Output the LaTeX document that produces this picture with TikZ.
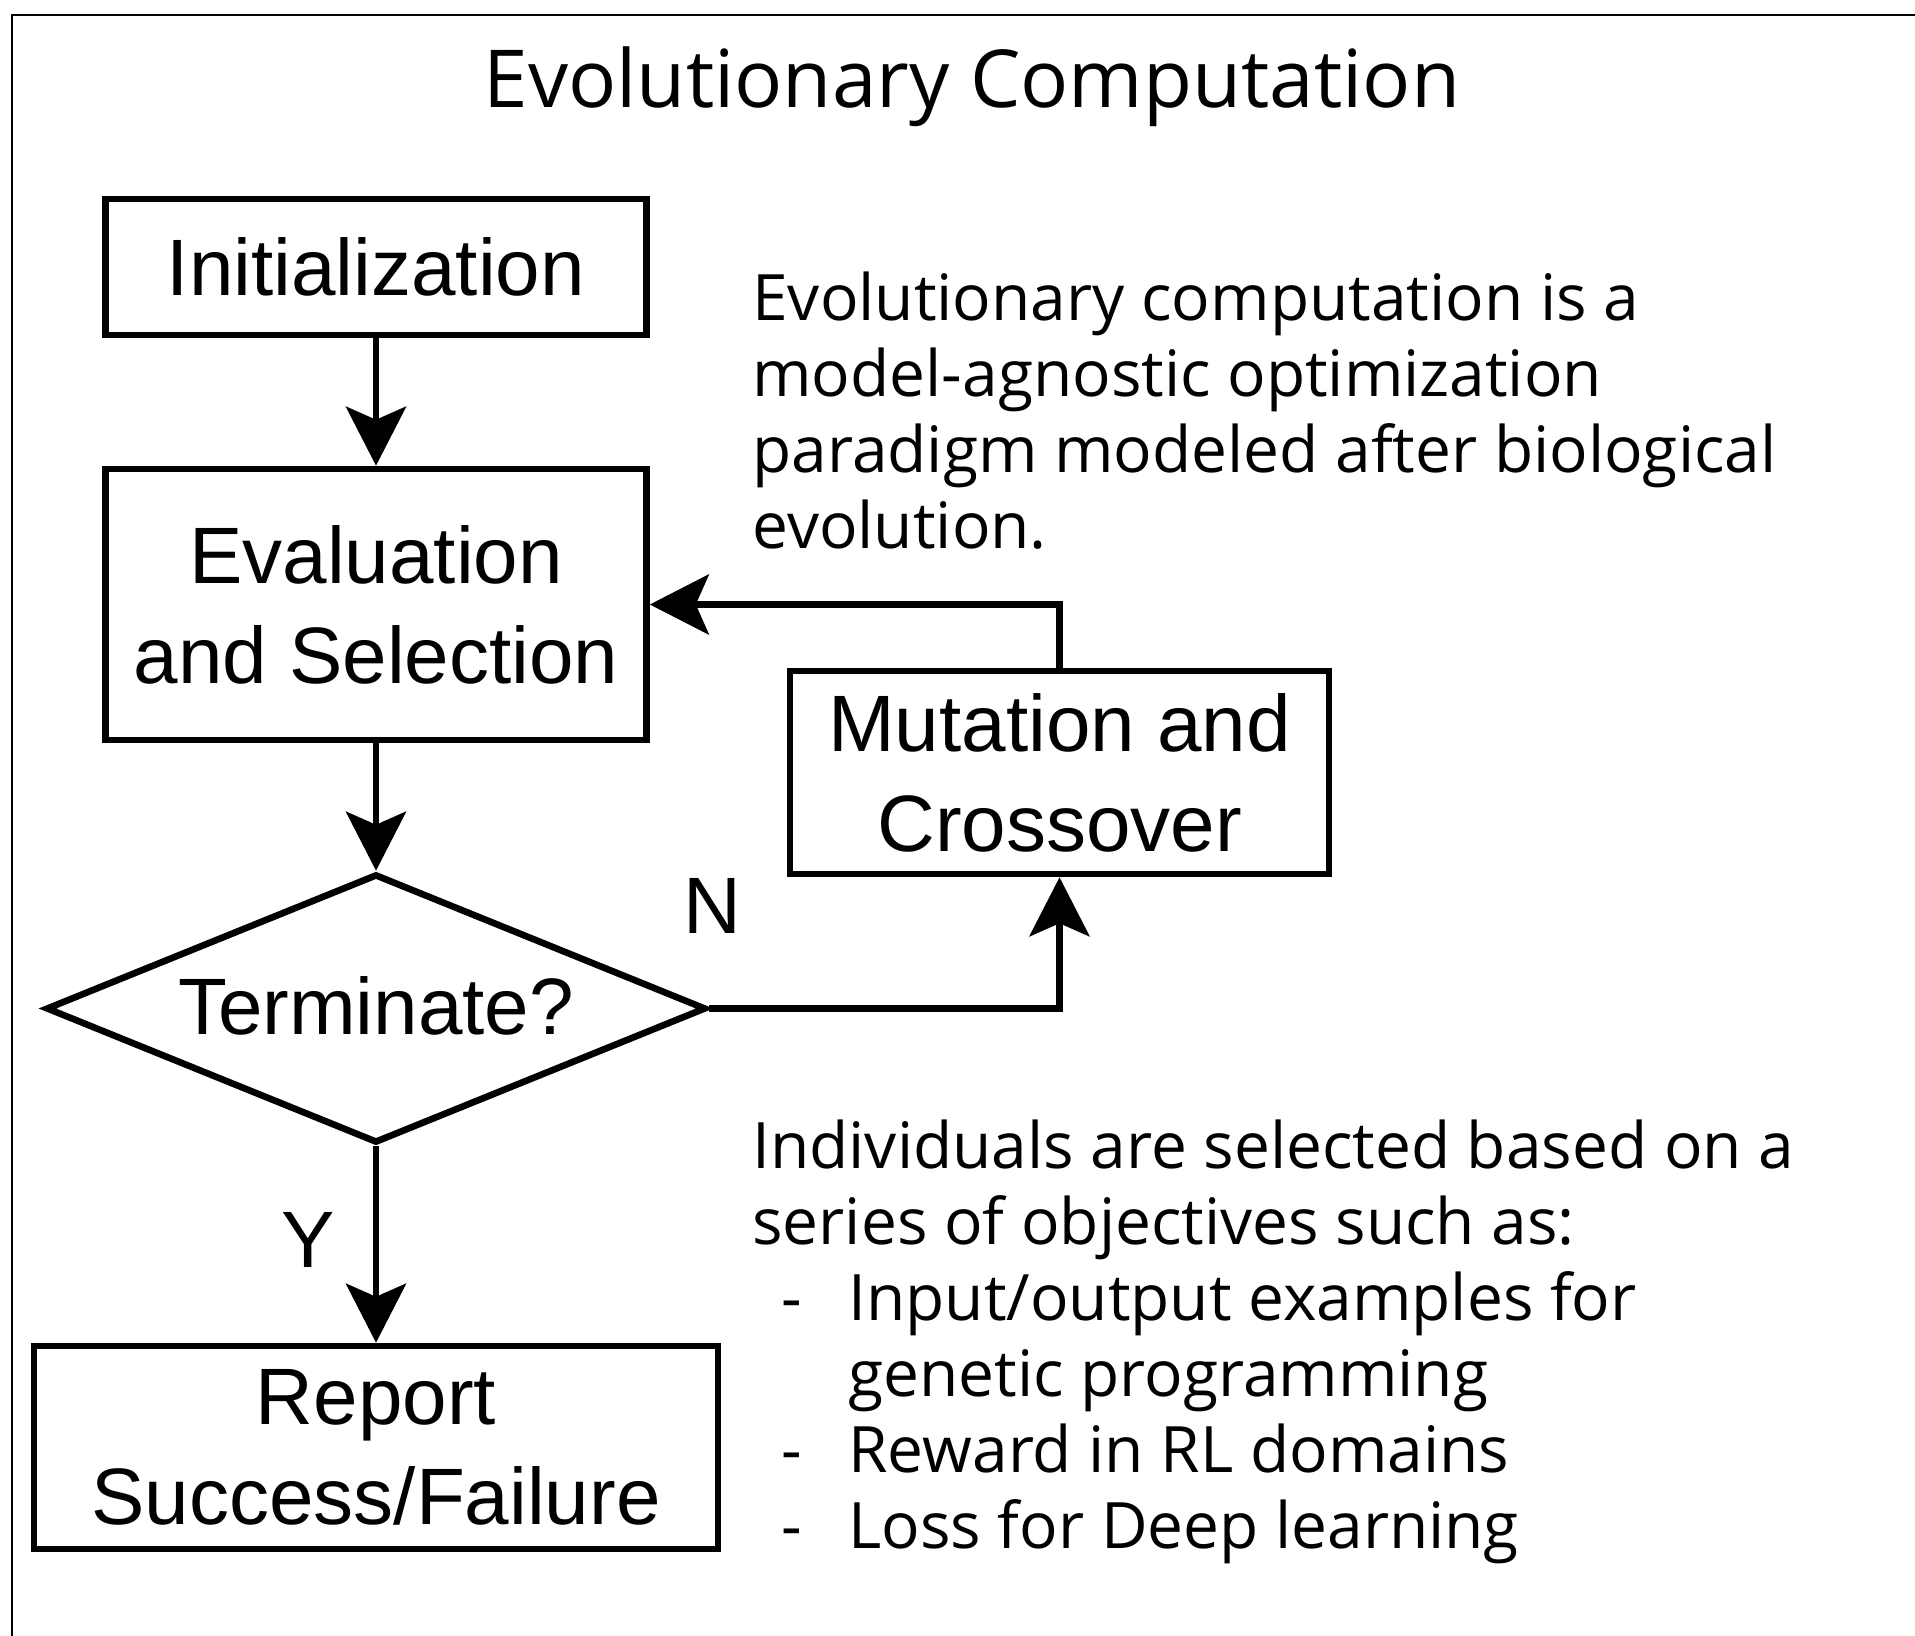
\documentclass[tikz,border=0pt]{standalone}
\usepackage{fontspec}
\setmainfont{Open Sans}
\newfontfamily\boxfont{Liberation Sans}
\usetikzlibrary{arrows.meta,shapes.geometric}
\begin{document}
\begin{tikzpicture}[x=0.5pt,y=-0.5pt,
  flowbox/.style={draw, line width=3.3pt, rectangle, inner sep=0pt, align=center,
    font=\boxfont\fontsize{40pt}{50pt}\selectfont},
  decision/.style={draw, line width=3.3pt, diamond, inner sep=0pt},
  flowarrow/.style={line width=3.3pt, -{Stealth[length=29.5pt,width=30pt,inset=6.5pt]}},
  boxlabel/.style={font=\boxfont\fontsize{40pt}{50pt}\selectfont, inner sep=0pt},
  bodytext/.style={font=\fontsize{32pt}{38pt}\selectfont, align=left, inner sep=0pt, anchor=base west},
]
% page and frame
\fill[white] (0,0) rectangle (1915,1636);
\useasboundingbox (0,0) rectangle (1915,1636);
\draw[line width=1pt] (12,1640) -- (12,15) -- (1920,15);

% title
\node[font=\fontsize{40pt}{50pt}\selectfont, anchor=base, inner sep=0pt] (title) at (972,108) {Evolutionary Computation};

% flowchart
\node[flowbox, minimum width=270.5pt, minimum height=68pt] (init) at (376,267) {Initialization};
\node[flowbox, minimum width=270.5pt, minimum height=135.5pt] (eval) at (376,604.5) {Evaluation\\and Selection};
\node[decision, minimum width=330pt, minimum height=134.5pt] (term) at (376,1008.5) {};
\node[boxlabel] (termtext) at (376,1006) {Terminate?};
\node[flowbox, minimum width=342pt, minimum height=101.5pt] (report) at (376,1447.5) {Report\\Success/Failure};
\node[flowbox, minimum width=269.5pt, minimum height=101.5pt] (mut) at (1059.5,772.5) {Mutation and\\Crossover};

\draw[flowarrow] (init.south) -- (eval.north);
\draw[flowarrow] (eval.south) -- (term.north);
\draw[flowarrow] (term.south) -- (report.north);
\draw[flowarrow] (term.east) -| (mut.south);
\draw[flowarrow] (mut.north) |- (eval.east);

\node[boxlabel] (nlabel) at (712,906) {N};
\node[boxlabel] (ylabel) at (308,1240) {Y};

% explanatory text (anchored at the baseline of the last line)
\node[bodytext] (about) at (752,548) {Evolutionary computation is a\\model-agnostic optimization\\paradigm modeled after biological\\evolution.};
\node[bodytext] (criteria) at (752,1548) {Individuals are selected based on a\\series of objectives such as:\\\hspace*{14.5pt}\makebox[33.5pt][l]{-}Input/output examples for\\\hspace*{48pt}genetic programming\\\hspace*{14.5pt}\makebox[33.5pt][l]{-}Reward in RL domains\\\hspace*{14.5pt}\makebox[33.5pt][l]{-}Loss for Deep learning};
\end{tikzpicture}
\end{document}
